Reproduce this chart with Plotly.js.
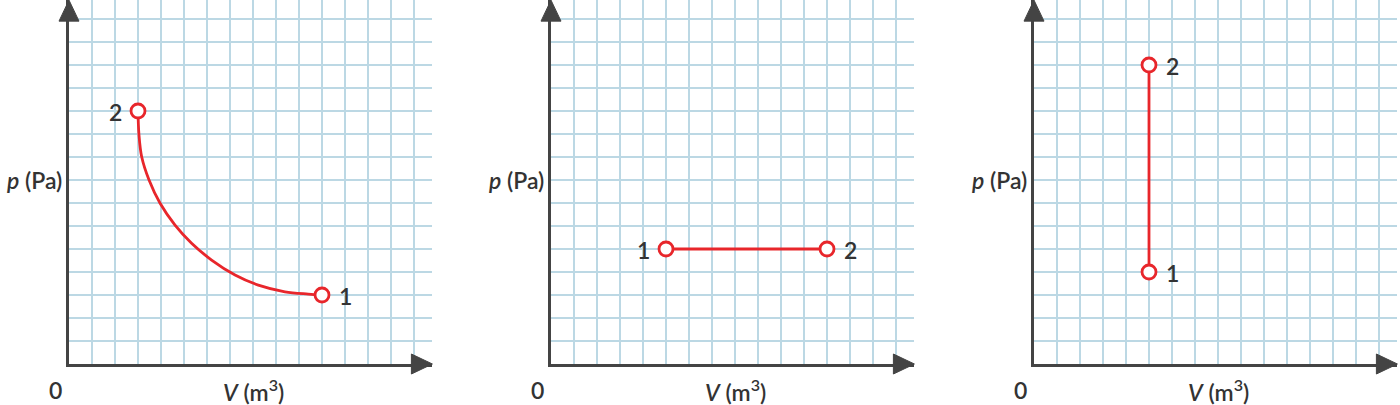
<!DOCTYPE html>
<html>
<head>
<meta charset="utf-8">
<script src="https://cdn.plot.ly/plotly-3.0.1.min.js"></script>
<style>html,body{margin:0;padding:0;background:#fff;}#chart{width:1400px;height:405px;}</style>
</head>
<body>
<div id="chart"></div>
<script>
// ---- data, ordered from state 1 to state 2 ----
const curveV = [11, 10.4, 9.39, 8.23, 7.22, 6.2, 5.33, 4.61, 3.96, 3.48, 3.16, 3.04, 3];
const curveP = [3, 3.04, 3.14, 3.43, 3.87, 4.52, 5.25, 6.04, 6.99, 8.0, 9.01, 10.0, 11];
const isobarV = [5, 12];
const isobarP = [5, 5];
const isochoreV = [5, 5];
const isochoreP = [4, 13];
const stateLabels = ['1', '2'];
const yLabel = '<i>p</i> (Pa)';
const xLabel = '<i>V</i> (m<sup>3</sup>)';
const originLabel = '0';

// ---- layout constants ----
const W = 1400, H = 405;
const unit = 23;            // px per grid cell
const originsX = [69, 551, 1034];
const originY = 364;
const xMax = 15.8, yMax = 15.82;
const red = '#e8262b', ink = '#333333', axisInk = '#444444', gridInk = '#bcd8e4';
const font = {family: 'Lato, "Open Sans", sans-serif', size: 23, color: ink, weight: 600};
const labelSides = [[1, -1], [-1, 1], [1, 1]];

const panels = [[curveV, curveP], [isobarV, isobarP], [isochoreV, isochoreP]];

const traces = [];
const layout = {
  width: W, height: H,
  margin: {l: 0, r: 0, t: 0, b: 0},
  paper_bgcolor: '#fff', plot_bgcolor: '#fff',
  showlegend: false,
  shapes: [], annotations: []
};

panels.forEach(([V, P], i) => {
  const n = i === 0 ? '' : String(i + 1);
  const xa = 'x' + n, ya = 'y' + n;
  const x0 = originsX[i];
  const dom = [x0 / W, (x0 + xMax * unit) / W];
  const ydom = [(H - originY) / H, (H - originY + yMax * unit) / H];
  const axisCommon = {
    showgrid: true, gridcolor: gridInk, gridwidth: 2.6,
    dtick: 1, tick0: 0, showticklabels: false, ticks: '',
    zeroline: false, showline: true, linecolor: axisInk, linewidth: 3,
    fixedrange: true
  };
  layout['xaxis' + n] = Object.assign({}, axisCommon, {domain: dom, range: [0, xMax], anchor: ya});
  layout['yaxis' + n] = Object.assign({}, axisCommon, {domain: ydom, range: [0, yMax], anchor: xa});

  traces.push({
    x: V, y: P, xaxis: xa, yaxis: ya, type: 'scatter', mode: 'lines',
    line: {color: red, width: 2.8, shape: i === 0 ? 'spline' : 'linear', smoothing: 1},
    hoverinfo: 'skip', cliponaxis: false
  });
  const last = V.length - 1;
  traces.push({
    x: [V[0], V[last]], y: [P[0], P[last]], xaxis: xa, yaxis: ya, type: 'scatter', mode: 'markers',
    marker: {size: 14, color: '#fff', line: {color: red, width: 2.8}},
    hoverinfo: 'skip', cliponaxis: false
  });

  // state labels
  [0, last].forEach((k, j) => {
    layout.annotations.push({
      x: V[k], y: P[k], xref: xa, yref: ya, text: stateLabels[j], showarrow: false,
      xanchor: 'center', yanchor: 'middle', xshift: 23 * labelSides[i][j], yshift: -1, font: font
    });
  });

  // axis labels
  layout.annotations.push({
    x: 0, y: 8, xref: xa + ' domain', yref: ya, text: yLabel, showarrow: false,
    xanchor: 'right', yanchor: 'middle', xshift: -5, font: font
  });
  layout.annotations.push({
    x: 8, y: 0, xref: xa, yref: ya + ' domain', text: xLabel, showarrow: false,
    xanchor: 'center', yanchor: 'middle', yshift: -26, font: font
  });
  layout.annotations.push({
    x: 0, y: 0, xref: xa + ' domain', yref: ya + ' domain', text: originLabel, showarrow: false,
    xanchor: 'center', yanchor: 'middle', xshift: -14, yshift: -26, font: font
  });

  // arrowheads (domain-referenced so they are not clipped)
  const pw = xMax * unit, ph = yMax * unit;
  const len = 21, half = 10;
  const bx = 1 - len / pw, hy = half / ph;
  layout.shapes.push({
    type: 'path', xref: xa + ' domain', yref: ya + ' domain',
    path: `M ${bx},${-hy} L 1,0 L ${bx},${hy} Z`,
    fillcolor: axisInk, line: {color: axisInk, width: 1}, layer: 'above'
  });
  const by = 1 - len / ph, hx = half / pw;
  layout.shapes.push({
    type: 'path', xref: xa + ' domain', yref: ya + ' domain',
    path: `M ${-hx},${by} L 0,1 L ${hx},${by} Z`,
    fillcolor: axisInk, line: {color: axisInk, width: 1}, layer: 'above'
  });
});

Plotly.newPlot('chart', traces, layout, {displayModeBar: false, staticPlot: true});
</script>
</body>
</html>
